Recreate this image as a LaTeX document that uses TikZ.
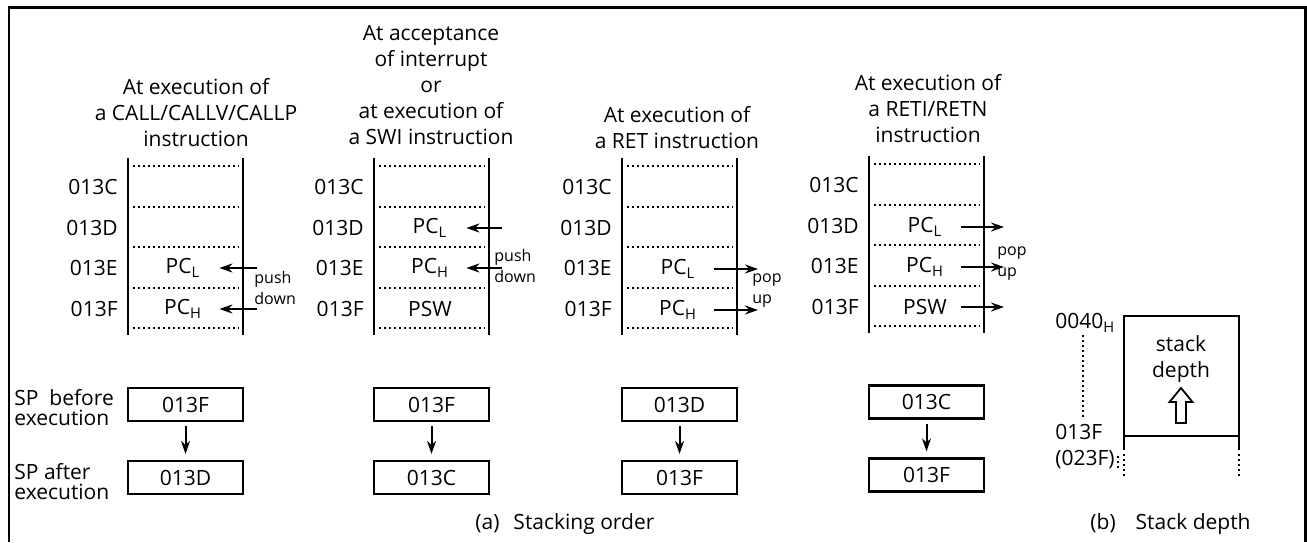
\documentclass[tikz,border=0pt]{standalone}
\usepackage{fontspec}
\setmainfont{Open Sans}
\usetikzlibrary{arrows.meta}

\begin{document}
\begin{tikzpicture}[x=0.5pt, y=-0.5pt, >={Stealth[length=6.5pt,width=4.5pt]},
  font=\fontsize{10.5}{13}\selectfont,
  every node/.style={inner sep=0pt},
  title/.style={align=center},
  cell/.style={minimum width=36pt},
  spbox/.style={draw, line width=1.1pt, minimum width=57.5pt, minimum height=16.5pt},
  splabel/.style={anchor=west, align=left, font=\fontsize{10.5}{10}\selectfont},
  note/.style={anchor=west, align=left, font=\fontsize{8}{10.5}\selectfont},
  stackline/.style={line width=1.1pt},
  dotline/.style={line width=0.9pt, dash pattern=on 0.9pt off 1.6pt},
  link/.style={->, line width=1pt}]
  \useasboundingbox (0,0) rectangle (1307,542);
  % frame
  \draw[line width=1.1pt] (9,542) -- (9,7.5) -- (1305.5,7.5) -- (1305.5,542);

  % headings
  \node[title] (t1) at (196,112.5) {At execution of\\a CALL/CALLV/CALLP\\instruction};
  \node[title] (t2) at (431,85) {At acceptance\\of interrupt\\or\\at execution of\\a SWI instruction};
  \node[title] (t3) at (677,127.5) {At execution of\\a RET instruction};
  \node[title] (t4) at (928,108.5) {At execution of\\a RETI/RETN\\instruction};

  % stack areas
  \foreach \L/\dy in {128/0, 374/0, 622/0, 869/-2} {
    \draw[stackline] (\L,158+\dy) -- (\L,335+\dy);
    \draw[stackline] (\L+115,158+\dy) -- (\L+115,335+\dy);
    \foreach \y in {166,207,247,288,328}
      \draw[dotline] (\L+5,\y+\dy) -- (\L+111,\y+\dy);
    \foreach \r/\y in {C/187,D/228,E/268,F/309}
      \node[anchor=east] (a\L\r) at (\L-10,\y+\dy) {013\r};
  }

  % CALL
  \node[cell] (c1E) at (183,268) {PC\textsubscript{L}};
  \node[cell] (c1F) at (183,309) {PC\textsubscript{H}};
  \coordinate (p1E) at (257,268);
  \coordinate (p1F) at (257,309);
  \draw[link] (p1E) -- (c1E);
  \draw[link] (p1F) -- (c1F);
  \node[note] (n1) at (254,287.5) {push\\down};

  % interrupt / SWI
  \node[cell] (c2D) at (430,228) {PC\textsubscript{L}};
  \node[cell] (c2E) at (430,268) {PC\textsubscript{H}};
  \node[cell] (c2F) at (430,309) {PSW};
  \coordinate (p2D) at (502,228);
  \coordinate (p2E) at (502,268);
  \draw[link] (p2D) -- (c2D);
  \draw[link] (p2E) -- (c2E);
  \node[note] (n2) at (494,265.5) {push\\down};

  % RET
  \node[cell] (c3E) at (678,269) {PC\textsubscript{L}};
  \node[cell] (c3F) at (678,310) {PC\textsubscript{H}};
  \coordinate (p3E) at (758,269);
  \coordinate (p3F) at (758,310);
  \draw[link] (c3E) -- (p3E);
  \draw[link] (c3F) -- (p3F);
  \node[note] (n3) at (752,290.5) {pop\\up};

  % RETI / RETN
  \node[cell] (c4D) at (925,227) {PC\textsubscript{L}};
  \node[cell] (c4E) at (925,267) {PC\textsubscript{H}};
  \node[cell] (c4F) at (925,307) {PSW};
  \coordinate (p4D) at (1004,227);
  \coordinate (p4E) at (1004,267);
  \coordinate (p4F) at (1004,307);
  \draw[link] (c4D) -- (p4D);
  \draw[link] (c4E) -- (p4E);
  \draw[link] (c4F) -- (p4F);
  \node[note] (n4) at (997,264) {pop\\up};

  % stack pointer
  \node[splabel] (spb) at (14,408) {SP\ \ before\\execution};
  \node[splabel] (spa) at (14,481.5) {SP after\\execution};
  \node[spbox] (sp1a) at (185.5,404.5) {013F};
  \node[spbox] (sp1b) at (185.5,477.5) {013D};
  \node[spbox] (sp2a) at (431.5,404.5) {013F};
  \node[spbox] (sp2b) at (431.5,477.5) {013C};
  \node[spbox] (sp3a) at (679.5,404.5) {013D};
  \node[spbox] (sp3b) at (679.5,477.5) {013F};
  \node[spbox] (sp4a) at (926.5,402) {013C};
  \node[spbox] (sp4b) at (926.5,475) {013F};
  \foreach \i in {1,...,4}
    \draw[link, shorten <=2pt, shorten >=3pt] (sp\i a) -- (sp\i b);

  \node[anchor=west] (capa) at (475,524) {(a)\hspace{7pt}Stacking order};

  % stack depth
  \draw[stackline] (1124,450) -- (1124,316) -- (1239,316) -- (1239,450);
  \draw[stackline] (1124,436) -- (1239,436);
  \draw[dotline] (1124,454) -- (1124,478);
  \draw[dotline] (1239,454) -- (1239,478);
  \draw[dotline] (1083,335) -- (1083,417);
  \draw[dotline] (1118,456) -- (1118,468);
  \node[anchor=west] (lo) at (1055,323) {0040\textsubscript{H}};
  \node[anchor=west] (hi) at (1055,432) {013F};
  \node[anchor=west] (hi2) at (1055,460) {(023F)};
  \node[title] (depth) at (1181,359.5) {stack\\depth};
  \coordinate (up) at (1181,423);
  \draw[line width=0.9pt] (up) ++(-5,0) -- ++(0,-21) -- ++(-6.5,0) -- (1181,388)
    -- ++(11.5,14) -- ++(-6.5,0) -- ++(0,21) -- cycle;

  \node[anchor=west] (capb) at (1090,524) {(b)\hspace{10pt}Stack depth};
\end{tikzpicture}
\end{document}
